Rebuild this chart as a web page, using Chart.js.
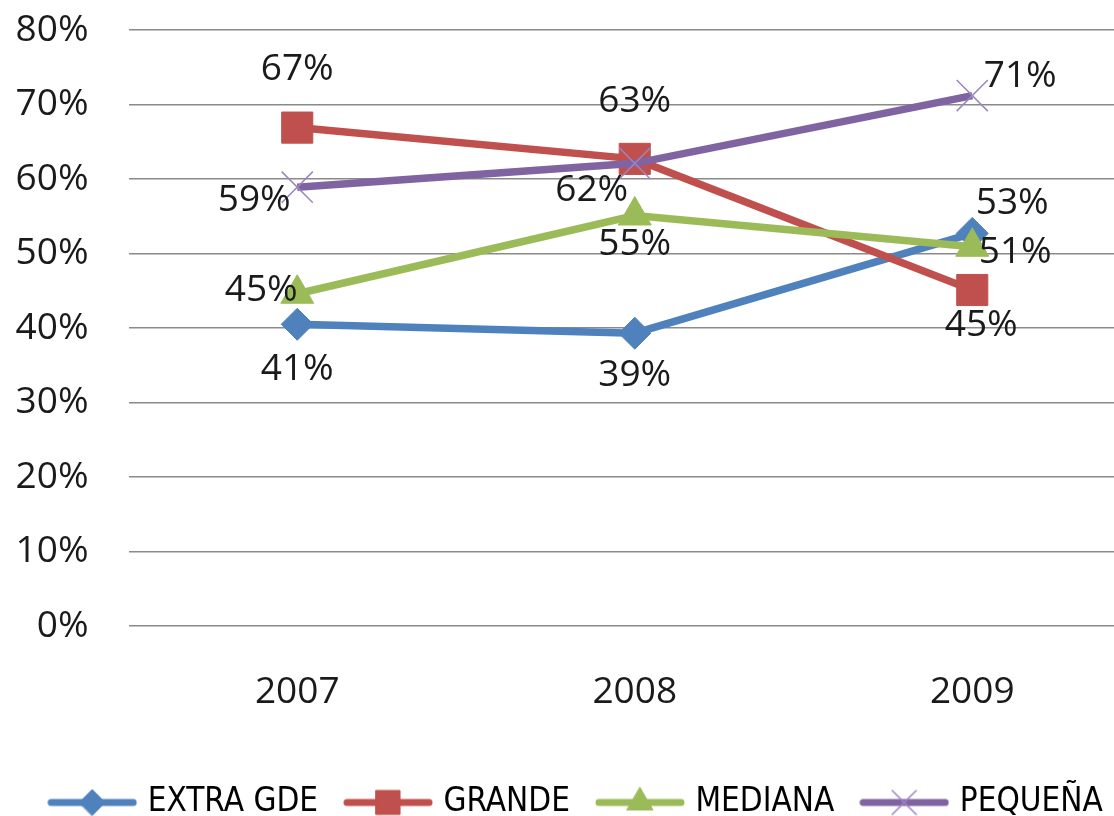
<!DOCTYPE html>
<html><head><meta charset="utf-8">
<script src="https://cdn.jsdelivr.net/npm/chart.js@4/dist/chart.umd.min.js"></script>
<style>
html,body{margin:0;padding:0;background:#fff;overflow:hidden;width:1114px;height:816px}
canvas{display:block}
</style>
</head><body>
<canvas id="c" width="1150" height="829"></canvas>
<script>
// ---- data ----
const categories = ['2007', '2008', '2009'];
const seriesNames = ['EXTRA GDE', 'GRANDE', 'MEDIANA', 'PEQUEÑA'];
const extraGde = [40.5, 39.3, 52.7];
const grande   = [66.9, 62.7, 45.1];
const mediana  = [44.6, 55.1, 50.9];
const pequena  = [58.9, 62.1, 71.2];
const yMin = 0, yMax = 80, yStep = 10;

// ---- styles ----
const colors = ['#4F81BD', '#C0504D', '#9BBB59', '#8064A2'];
const markerColors = ['#4F81BD', '#C0504D', '#9BBB59', '#9C86C0'];
const pointStyles = ['rectRot', 'rect', 'triangle', 'crossRot'];
const pointRadii = [16, 22, 19, 22];
const pointBorders = [1, 1, 1, 1.5];
const legendRadii = [13, 17, 15, 17];
// label offsets (dx, dy) relative to each point
const labelOffsets = [
  [[0, 45], [0, 42], [40, -30]],
  [[0, -58], [0, -57], [9, 35]],
  [[-36, -3], [0, 29], [43, 6]],
  [[-43, 13], [-43, 27], [48, -19]]
];
const FONT = "'Open Sans', 'DejaVu Sans', sans-serif";
const LEGEND_FONT = "'DejaVu Sans Condensed', 'Liberation Sans Narrow', sans-serif";

const seriesValues = [extraGde, grande, mediana, pequena];

function legendIcon(i) {
  const cv = document.createElement('canvas');
  cv.width = 90; cv.height = 36;
  const ctx = cv.getContext('2d');
  ctx.strokeStyle = colors[i];
  ctx.lineWidth = 7;
  ctx.lineCap = 'round';
  ctx.beginPath(); ctx.moveTo(4, 18); ctx.lineTo(86, 18); ctx.stroke();
  ctx.fillStyle = markerColors[i];
  ctx.strokeStyle = markerColors[i];
  ctx.lineWidth = pointBorders[i];
  Chart.helpers.drawPoint(ctx, {pointStyle: pointStyles[i], radius: legendRadii[i], borderWidth: pointBorders[i], rotation: 0}, 45, 18);
  return cv;
}

const dataLabelPlugin = {
  id: 'dataLabels',
  afterDatasetsDraw(chart) {
    const ctx = chart.ctx;
    ctx.save();
    ctx.font = '37px ' + FONT;
    ctx.fillStyle = '#1a1a1a';
    ctx.textAlign = 'center';
    ctx.textBaseline = 'middle';
    chart.data.datasets.forEach((ds, di) => {
      const meta = chart.getDatasetMeta(di);
      meta.data.forEach((pt, pi) => {
        const off = labelOffsets[di][pi];
        ctx.fillText(Math.round(ds.data[pi]) + '%', pt.x + off[0], pt.y + off[1]);
      });
    });
    ctx.restore();
  }
};

const datasets = seriesNames.map((name, i) => ({
  label: name,
  data: seriesValues[i],
  borderColor: colors[i],
  backgroundColor: markerColors[i],
  borderWidth: 7.5,
  tension: 0,
  pointStyle: pointStyles[i],
  pointRadius: pointRadii[i],
  pointBackgroundColor: markerColors[i],
  pointBorderColor: markerColors[i],
  pointBorderWidth: pointBorders[i],
  order: 4 - i
}));

new Chart(document.getElementById('c'), {
  type: 'line',
  data: { labels: categories, datasets },
  options: {
    responsive: false,
    animation: false,
    events: [],
    layout: { autoPadding: false, padding: { left: 15, right: 9, top: 0, bottom: 0 } },
    scales: {
      x: {
        offset: true,
        grid: { display: false, drawTicks: false },
        border: { display: false },
        ticks: { font: { family: FONT, size: 37 }, color: '#1a1a1a', padding: 44 },
        afterFit(scale) { scale.height = 129; }
      },
      y: {
        min: yMin, max: yMax,
        grid: { color: '#8a8a8a', lineWidth: 1.5, drawTicks: false },
        border: { display: false },
        ticks: { stepSize: yStep, padding: 40, font: { family: FONT, size: 37 }, color: '#1a1a1a',
                 callback: v => v + '%' },
        afterFit(scale) { scale.width = 113.5; scale.paddingTop = 30; scale.paddingBottom = 22; }
      }
    },
    plugins: {
      tooltip: { enabled: false },
      legend: {
        position: 'bottom',
        labels: {
          usePointStyle: true,
          pointStyleWidth: 78,
          padding: 31,
          color: '#000',
          font: { family: LEGEND_FONT, size: 33 },
          generateLabels(chart) {
            return chart.data.datasets.map((ds, i) => ({
              text: ds.label,
              pointStyle: legendIcon(i),
              fillStyle: colors[i],
              strokeStyle: colors[i],
              lineWidth: 0,
              hidden: false,
              datasetIndex: i,
              fontColor: '#000'
            }));
          }
        }
      }
    }
  },
  plugins: [dataLabelPlugin]
});
</script>
</body></html>
